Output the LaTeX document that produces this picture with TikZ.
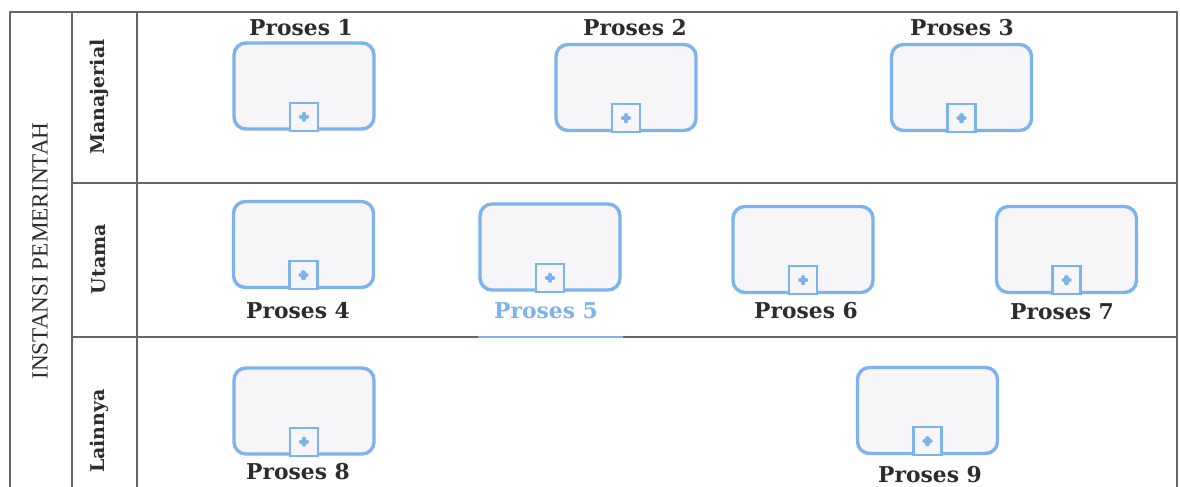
\documentclass[tikz,border=0pt]{standalone}
\usepackage{fontspec}
\setmainfont{Liberation Serif}
\newfontfamily\slabfont{DejaVu Serif}
\usepackage[dvipsnames]{xcolor}
\usetikzlibrary{calc}

\definecolor{procblue}{HTML}{7DB3EC}
\definecolor{procfill}{HTML}{F6F6F9}
\definecolor{laneline}{HTML}{666666}
\definecolor{inktext}{HTML}{2C2C2C}

\tikzset{
  proses/.style={draw=procblue, fill=procfill, line width=2.4pt,
    rounded corners=0.3cm, minimum width=3.5cm, minimum height=2.15cm,
    inner sep=0pt},
  proslabel/.style={text=inktext, inner sep=0pt,
    font=\slabfont\bfseries\fontsize{15.5}{18}\selectfont},
  lanelabel/.style={text=inktext, rotate=90, inner sep=0pt,
    font=\slabfont\bfseries\fontsize{13.5}{16}\selectfont},
  poollabel/.style={text=inktext, rotate=90, inner sep=0pt,
    font=\fontsize{16.5}{19}\selectfont},
  lane/.style={draw=laneline, line width=1.1pt}
}

\begin{document}
\begin{tikzpicture}[x=0.025cm, y=-0.025cm]
    \path [use as bounding box, fill=white]
      (0, 0) rectangle (1180, 487);

    % pool and lanes
    \draw[lane] (10, 487) -- (10, 12) -- (1177, 12) -- (1177, 487);
    \draw[lane] (72, 12) -- (72, 487);
    \draw[lane] (137, 12) -- (137, 487);
    \draw[lane] (72, 183) -- (1177, 183);
    \draw[lane] (72, 337) -- (1177, 337);
    \draw[procblue, line width=1.1pt] (478, 337) -- (623, 337);

    \node[poollabel] (pool) at (40, 251) {INSTANSI PEMERINTAH};
    \node[lanelabel] (ln-man) at (99, 97) {Manajerial};
    \node[lanelabel] (ln-uta) at (99, 259) {Utama};
    \node[lanelabel] (ln-lain) at (99, 431) {Lainnya};

    % sub-processes
    \node[proses] (p1) at (304, 86) {};
    \node[proses] (p2) at (626, 87.5) {};
    \node[proses] (p3) at (961.5, 87.5) {};
    \node[proses] (p4) at (303.5, 244.5) {};
    \node[proses] (p5) at (550, 247) {};
    \node[proses] (p6) at (803, 249.5) {};
    \node[proses] (p7) at (1066.5, 249.5) {};
    \node[proses] (p8) at (304, 411) {};
    \node[proses] (p9) at (927.5, 410.5) {};

    \foreach \i in {1,...,9} {
      \path[draw=procblue, fill=procfill, line width=1.6pt]
        ($(p\i.south) + (-14, 0)$) rectangle ++(28, -28);
      \draw[procblue, line width=3pt, line cap=round]
        ($(p\i.south) + (-3, -14)$) -- ++(6, 0)
        ($(p\i.south) + (0, -11)$) -- ++(0, -6);
    }

    \node[proslabel] (lp1) at (301, 28) {Proses 1};
    \node[proslabel] (lp2) at (635, 28) {Proses 2};
    \node[proslabel] (lp3) at (962, 28) {Proses 3};
    \node[proslabel] (lp4) at (298, 311) {Proses 4};
    \node[proslabel, text=procblue] (lp5) at (546, 311) {Proses 5};
    \node[proslabel] (lp6) at (806, 311) {Proses 6};
    \node[proslabel] (lp7) at (1062, 312) {Proses 7};
    \node[proslabel] (lp8) at (298, 472) {Proses 8};
    \node[proslabel] (lp9) at (930, 475) {Proses 9};
  \end{tikzpicture}
\end{document}
